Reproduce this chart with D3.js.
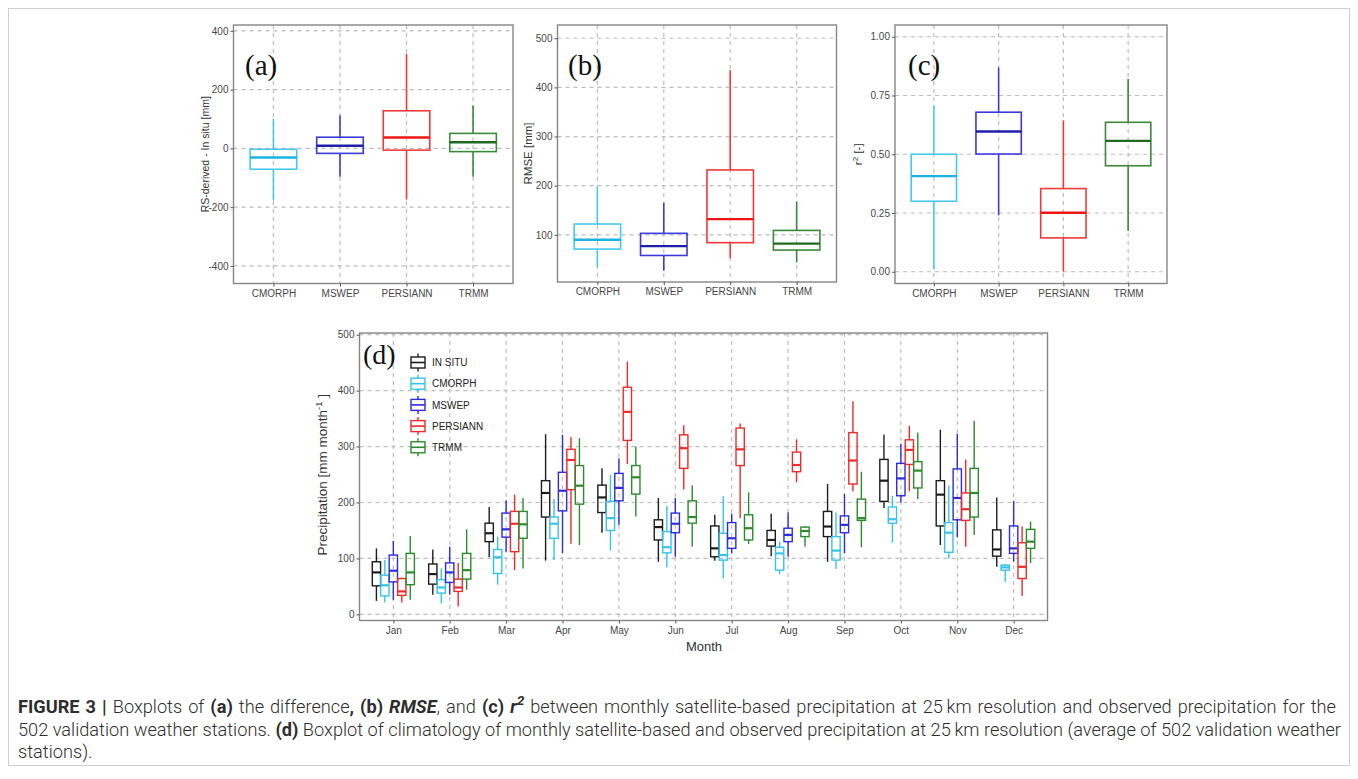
<!DOCTYPE html>
<html>
<head>
<meta charset="utf-8">
<script src="https://cdn.jsdelivr.net/npm/d3@7"></script>
<style>
  body { margin: 0; background: #fff; }
  svg { display: block; }
</style>
</head>
<body>
<svg id="fig" width="1358" height="779"></svg>
<script>
// ---- Data -------------------------------------------------------------
// Box statistics are [lower whisker, Q1, median, Q3, upper whisker].
const products = ["CMORPH", "MSWEP", "PERSIANN", "TRMM"];

const diffStats = [
  [-177, -71, -31, -3, 100],
  [-97, -17, 9, 38, 112],
  [-174, -6, 37, 128, 322],
  [-97, -11, 21, 51, 146]
];
const rmseStats = [
  [35, 71, 90, 122, 197],
  [27, 58, 77, 103, 165],
  [53, 84, 132, 232, 435],
  [44, 69, 82, 109, 167]
];
const r2Stats = [
  [0.011, 0.30, 0.407, 0.50, 0.707],
  [0.24, 0.501, 0.597, 0.679, 0.869],
  [0.001, 0.144, 0.251, 0.354, 0.644],
  [0.173, 0.451, 0.557, 0.636, 0.821]
];

const diffTicks = [-400, -200, 0, 200, 400];
const rmseTicks = [100, 200, 300, 400, 500];
const r2Ticks = [0, 0.25, 0.5, 0.75, 1];
const precipTicks = [0, 100, 200, 300, 400, 500];

const months = ["Jan", "Feb", "Mar", "Apr", "May", "Jun", "Jul", "Aug", "Sep", "Oct", "Nov", "Dec"];
const sources = ["IN SITU", "CMORPH", "MSWEP", "PERSIANN", "TRMM"];

// Monthly precipitation (mm month^-1), one row per month
const inSituMonthly = [
  [24, 51, 75, 94, 118], [35, 54, 72, 90, 116], [102, 130, 145, 163, 192],
  [96, 174, 217, 239, 322], [146, 182, 209, 231, 261], [94, 133, 156, 169, 208],
  [96, 103, 118, 158, 178], [104, 122, 133, 150, 180], [94, 139, 157, 184, 233],
  [190, 202, 239, 277, 321], [124, 158, 214, 239, 330], [85, 104, 116, 151, 209]
];
const cmorphMonthly = [
  [21, 33, 52, 70, 97], [20, 38, 48, 62, 82], [53, 73, 102, 116, 139],
  [97, 136, 162, 174, 206], [114, 150, 172, 202, 249], [84, 110, 120, 148, 194],
  [64, 97, 106, 145, 211], [72, 79, 109, 120, 130], [81, 97, 114, 139, 182],
  [128, 163, 170, 192, 212], [100, 111, 146, 164, 230], [58, 79, 84, 88, 90]
];
const mswepMonthly = [
  [26, 58, 78, 106, 131], [35, 57, 75, 92, 121], [112, 138, 152, 181, 204],
  [109, 185, 221, 254, 321], [160, 203, 226, 252, 279], [103, 146, 162, 181, 208],
  [109, 118, 136, 164, 180], [103, 130, 142, 154, 182], [109, 146, 160, 176, 215],
  [200, 212, 243, 270, 305], [138, 169, 208, 260, 323], [94, 109, 118, 158, 203]
];
const persiannMonthly = [
  [21, 34, 41, 64, 66], [14, 41, 48, 63, 92], [79, 112, 162, 184, 214],
  [126, 223, 276, 295, 317], [269, 311, 362, 406, 452], [223, 261, 297, 321, 338],
  [172, 266, 295, 333, 341], [236, 255, 267, 290, 313], [220, 233, 275, 325, 381],
  [220, 268, 294, 312, 337], [121, 168, 188, 217, 277], [33, 64, 85, 128, 157]
];
const trmmMonthly = [
  [26, 53, 75, 109, 140], [44, 63, 79, 109, 152], [82, 136, 161, 184, 208],
  [124, 197, 230, 266, 315], [175, 215, 245, 266, 300], [121, 163, 174, 203, 231],
  [126, 133, 154, 178, 218], [121, 139, 149, 156, 158], [120, 168, 172, 206, 255],
  [206, 226, 257, 273, 325], [142, 174, 217, 261, 346], [92, 118, 130, 152, 166]
];
const monthlySeries = [inSituMonthly, cmorphMonthly, mswepMonthly, persiannMonthly, trmmMonthly];

// ---- Styling ----------------------------------------------------------
const productColors = ["#48c8ee", "#3a3ade", "#ef3a3a", "#3a8a3a"];
const productMedian = ["#1cb2e2", "#1e1ea8", "#ee1515", "#1f6a1f"];
const sourceColors = ["#1c1c1c", "#35c3ec", "#2b2be0", "#ee2b2b", "#2c8a2c"];

const FONT = "'Liberation Sans', Arial, sans-serif";
const SERIF = "'Liberation Serif', 'Times New Roman', serif";
const gridColor = "#bcbcbc";
const frameColor = "#858585";
const axisText = "#474747";

const svg = d3.select("#fig");
svg.append("rect").attr("width", 1358).attr("height", 779).attr("fill", "#fff");
svg.append("rect")
  .attr("x", 8.5).attr("y", 8.5).attr("width", 1341).attr("height", 757)
  .attr("fill", "none").attr("stroke", "#cfcfcf").attr("stroke-width", 1);

function frameAndGrid(g, x, y, yTicks, box, xValues) {
  g.append("g").selectAll("line").data(yTicks).join("line")
    .attr("x1", box.left).attr("x2", box.right)
    .attr("y1", d => y(d)).attr("y2", d => y(d))
    .attr("stroke", gridColor).attr("stroke-width", 1.2).attr("stroke-dasharray", "4,4");
  g.append("g").selectAll("line").data(xValues).join("line")
    .attr("x1", d => x(d)).attr("x2", d => x(d))
    .attr("y1", box.top).attr("y2", box.bottom)
    .attr("stroke", gridColor).attr("stroke-width", 1.2).attr("stroke-dasharray", "4,4");
}

function styleAxis(sel) {
  sel.select(".domain").remove();
  sel.selectAll(".tick line").attr("stroke", "#555").attr("stroke-width", 1);
  sel.selectAll(".tick text").attr("fill", axisText).attr("font-family", FONT).attr("font-size", 10);
}

function drawBox(g, cx, w, s, y, stroke, median, lw, mw) {
  const [lo, q1, md, q3, hi] = s;
  g.append("line").attr("x1", cx).attr("x2", cx).attr("y1", y(hi)).attr("y2", y(q3))
    .attr("stroke", stroke).attr("stroke-width", lw);
  g.append("line").attr("x1", cx).attr("x2", cx).attr("y1", y(q1)).attr("y2", y(lo))
    .attr("stroke", stroke).attr("stroke-width", lw);
  g.append("rect").attr("x", cx - w / 2).attr("width", w)
    .attr("y", y(q3)).attr("height", y(q1) - y(q3))
    .attr("fill", "none").attr("stroke", stroke).attr("stroke-width", lw);
  g.append("line").attr("x1", cx - w / 2).attr("x2", cx + w / 2)
    .attr("y1", y(md)).attr("y2", y(md))
    .attr("stroke", median).attr("stroke-width", mw);
}

// ---- Panels (a)-(c) ----------------------------------------------------
function metricPanel(o) {
  const box = o.box;
  const x = d3.scalePoint().domain(products).range([box.left, box.right]).padding(0.6);
  const y = d3.scaleLinear().domain(o.domain).range([box.bottom, box.top]);
  const g = svg.append("g");
  frameAndGrid(g, x, y, o.ticks, box, products);
  const w = x.step() * 0.7;
  o.stats.forEach((s, i) => drawBox(g, x(products[i]), w, s, y, productColors[i], productMedian[i], 1.6, 2.4));
  g.append("rect").attr("x", box.left).attr("y", box.top)
    .attr("width", box.right - box.left).attr("height", box.bottom - box.top)
    .attr("fill", "none").attr("stroke", frameColor).attr("stroke-width", 1.4);
  const ay = g.append("g").attr("transform", `translate(${box.left},0)`)
    .call(d3.axisLeft(y).tickValues(o.ticks).tickSize(3).tickPadding(2).tickFormat(o.fmt));
  styleAxis(ay);
  const ax = g.append("g").attr("transform", `translate(0,${box.bottom})`)
    .call(d3.axisBottom(x).tickSize(3).tickPadding(3));
  styleAxis(ax);
  const t = g.append("text")
    .attr("transform", `translate(${o.titleX},${(box.top + box.bottom) / 2}) rotate(-90)`)
    .attr("text-anchor", "middle").attr("font-family", FONT).attr("font-size", o.titleSize).attr("fill", "#333");
  o.title.forEach(p => {
    const s = t.append("tspan").text(p.t);
    if (p.sup) s.attr("baseline-shift", "super").attr("font-size", "70%");
  });
  g.append("text").attr("x", o.labelX).attr("y", 75)
    .attr("font-family", SERIF).attr("font-size", 29).attr("fill", "#111").text(o.label);
}

metricPanel({
  box: { left: 233.5, right: 513, top: 25, bottom: 283.5 },
  domain: [-460, 420], ticks: diffTicks, stats: diffStats, fmt: d => String(d),
  title: [{ t: "RS-derived - In situ [mm]" }], titleSize: 10.5, titleX: 209, label: "(a)", labelX: 245
});
metricPanel({
  box: { left: 557.5, right: 836.5, top: 25, bottom: 282 },
  domain: [4, 527], ticks: rmseTicks, stats: rmseStats, fmt: d => String(d),
  title: [{ t: "RMSE [mm]" }], titleSize: 11.5, titleX: 532, label: "(b)", labelX: 568
});
metricPanel({
  box: { left: 895, right: 1167, top: 25, bottom: 283.5 },
  domain: [-0.05, 1.05], ticks: r2Ticks, stats: r2Stats, fmt: d3.format(".2f"),
  title: [{ t: "r" }, { t: "2", sup: true }, { t: " [-]" }], titleSize: 11.5, titleX: 862, label: "(c)", labelX: 908
});

// ---- Panel (d) -----------------------------------------------------------
(function monthlyPanel() {
  const box = { left: 359.5, right: 1047.5, top: 333, bottom: 620.5 };
  const x = d3.scalePoint().domain(months).range([box.left, box.right]).padding(0.6);
  const y = d3.scaleLinear().domain([-11, 503]).range([box.bottom, box.top]);
  const g = svg.append("g");
  frameAndGrid(g, x, y, precipTicks, box, months);
  const dodge = x.step() * 0.15;
  const w = dodge * 0.98;
  monthlySeries.forEach((series, si) => {
    series.forEach((s, mi) => {
      const cx = x(months[mi]) + (si - 2) * dodge;
      drawBox(g, cx, w, s, y, sourceColors[si], sourceColors[si], 1.4, 2.2);
    });
  });
  g.append("rect").attr("x", box.left).attr("y", box.top)
    .attr("width", box.right - box.left).attr("height", box.bottom - box.top)
    .attr("fill", "none").attr("stroke", frameColor).attr("stroke-width", 1.4);
  const ay = g.append("g").attr("transform", `translate(${box.left},0)`)
    .call(d3.axisLeft(y).tickValues(precipTicks).tickSize(3).tickPadding(2).tickFormat(d => String(d)));
  styleAxis(ay);
  const ax = g.append("g").attr("transform", `translate(0,${box.bottom})`)
    .call(d3.axisBottom(x).tickSize(3).tickPadding(3));
  styleAxis(ax);

  const yt = g.append("text")
    .attr("transform", `translate(327,${(box.top + box.bottom) / 2 - 2}) rotate(-90)`)
    .attr("text-anchor", "middle").attr("font-family", FONT).attr("font-size", 13.5).attr("fill", "#333");
  yt.append("tspan").text("Precipitation [mm  month");
  yt.append("tspan").text("-1").attr("baseline-shift", "super").attr("font-size", "70%");
  yt.append("tspan").text(" ]");

  g.append("text").attr("x", 704).attr("y", 651).attr("text-anchor", "middle")
    .attr("font-family", FONT).attr("font-size", 13).attr("fill", "#333").text("Month");

  g.append("text").attr("x", 363).attr("y", 364)
    .attr("font-family", SERIF).attr("font-size", 28).attr("fill", "#111").text("(d)");

  // legend with boxplot glyphs
  const leg = g.append("g");
  sources.forEach((name, i) => {
    const cy = 362.5 + i * 21.2;
    const kx = 418;
    const c = sourceColors[i];
    leg.append("line").attr("x1", kx).attr("x2", kx).attr("y1", cy - 9).attr("y2", cy + 9)
      .attr("stroke", c).attr("stroke-width", 1.4);
    leg.append("rect").attr("x", kx - 7).attr("y", cy - 5.5).attr("width", 14).attr("height", 11)
      .attr("fill", "#fff").attr("stroke", c).attr("stroke-width", 1.4);
    leg.append("line").attr("x1", kx - 7).attr("x2", kx + 7).attr("y1", cy).attr("y2", cy)
      .attr("stroke", c).attr("stroke-width", 1.6);
    leg.append("text").attr("x", 432).attr("y", cy + 3.6)
      .attr("font-family", FONT).attr("font-size", 10).attr("fill", "#222").text(name);
  });
})();

// ---- Caption ---------------------------------------------------------------
const CAP_FONT = "Roboto, 'Liberation Sans', Arial, sans-serif";
const captionLines = [
  [
    { t: "FIGURE 3 | ", b: true }, { t: "Boxplots of " }, { t: "(a)", b: true },
    { t: " the difference" }, { t: ",", b: true }, { t: " " }, { t: "(b) ", b: true },
    { t: "RMSE", b: true, i: true }, { t: ", and " }, { t: "(c) ", b: true },
    { t: "r", b: true, i: true }, { t: "2", b: true, i: true, sup: true },
    { t: " between monthly satellite-based precipitation at 25\u2009km resolution and observed precipitation for the" }
  ],
  [
    { t: "502 validation weather stations. " }, { t: "(d)", b: true },
    { t: " Boxplot of climatology of monthly satellite-based and observed precipitation at 25\u2009km resolution (average of 502 validation weather" }
  ],
  [{ t: "stations)." }]
];
const capBaselines = [712.5, 735.5, 758];
const capTargets = [1318, 1323];
const capNodes = captionLines.map((parts, li) => {
  const t = svg.append("text").attr("x", 18).attr("y", capBaselines[li])
    .attr("font-family", CAP_FONT).attr("font-size", 16).attr("font-weight", 300).attr("fill", "#2e2e2e");
  parts.forEach(p => {
    const s = t.append("tspan").text(p.t);
    if (p.b) s.attr("font-weight", "bold");
    if (p.i) s.attr("font-style", "italic");
    if (p.sup) s.attr("baseline-shift", "super").attr("font-size", "75%");
  });
  return t;
});
// one font size for the whole caption, then justify the full lines with word spacing
const natural = capNodes.slice(0, 2).map(t => t.node().getComputedTextLength());
const capSize = 16 * Math.min(capTargets[0] / natural[0], capTargets[1] / natural[1]);
capNodes.forEach(t => t.attr("font-size", capSize));
capNodes.slice(0, 2).forEach((t, i) => {
  const w = t.node().getComputedTextLength();
  const gaps = (t.text().match(/ /g) || []).length;
  if (gaps > 0) t.attr("word-spacing", (capTargets[i] - w) / gaps);
});
</script>
</body>
</html>
